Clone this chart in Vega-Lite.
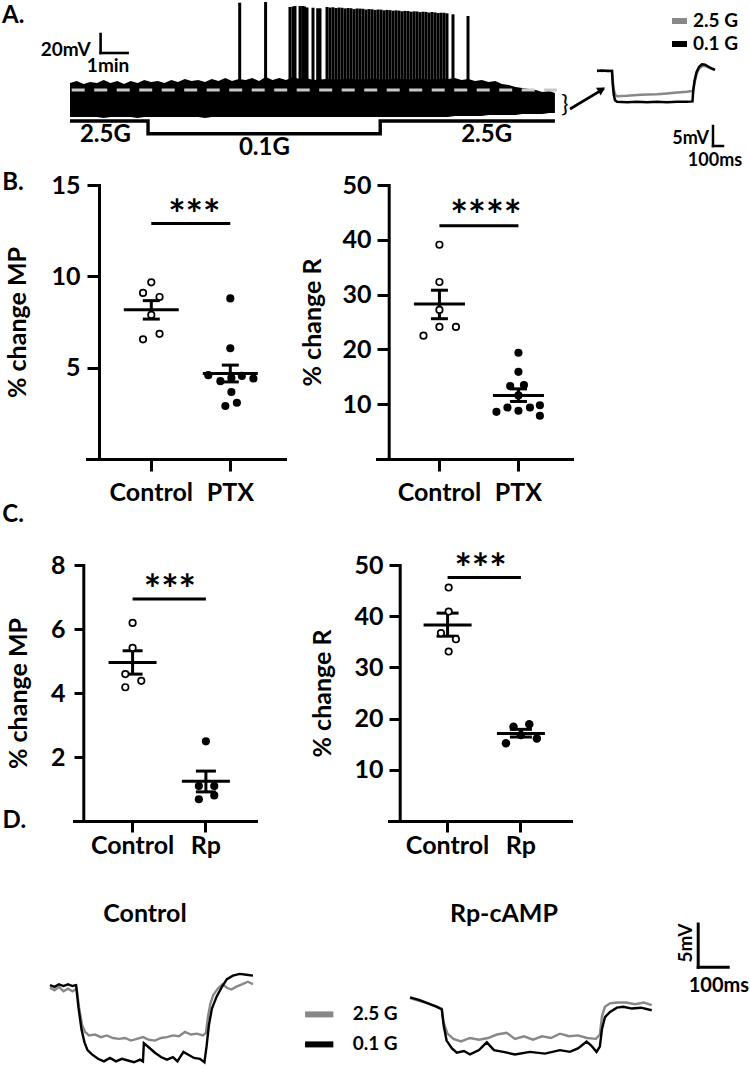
{
  "$schema": "https://vega.github.io/schema/vega-lite/v6.json",
  "background": "white",
  "padding": {"left": 2, "top": 0, "right": 0, "bottom": 0},
  "config": {
    "view": {"stroke": null},
    "font": "Lato",
    "axis": {"labelFont": "Lato", "titleFont": "Lato", "labelFontWeight": "bold", "titleFontWeight": "bold", "labelColor": "#000", "titleColor": "#000", "domainColor": "#000", "tickColor": "#000", "grid": false, "labelFontSize": 25, "titleFontSize": 25, "domainWidth": 3, "tickWidth": 3, "domainCap": "square"},
    "text": {"font": "Lato", "fontWeight": "bold", "color": "#000"},
    "tick": {"opacity": 1},
    "rule": {"opacity": 1},
    "title": {"font": "Lato", "fontWeight": "bold", "fontSize": 25, "color": "#000"},
    "legend": {"labelFont": "Lato", "labelFontWeight": "bold", "labelColor": "#000"}
  },
  "spacing": 0,
  "resolve": {"scale": {"color": "independent", "xOffset": "independent"}},
  "vconcat": [
    {
      "bounds": "flush", "spacing": 0,
      "resolve": {"scale": {"color": "independent", "xOffset": "independent"}},
      "hconcat": [
        {"width": 21, "height": 169.8, "data": {"values": []}, "mark": "point"},
        {
          "width": 486, "height": 140,
          "resolve": {"scale": {"y": "independent"}},
          "layer": [
            {
              "layer": [
                {
                  "data": {"values": [
                    {"t": 0, "top": -44.3, "bot": -80.1}, {"t": 0.25, "top": -42.2, "bot": -80.1}, {"t": 0.5, "top": -45.4, "bot": -80.1}, {"t": 0.75, "top": -43.3, "bot": -80.1},
                    {"t": 1.0, "top": -44.3, "bot": -80.1}, {"t": 1.25, "top": -41.2, "bot": -81.2}, {"t": 1.5, "top": -44.3, "bot": -80.1}, {"t": 1.75, "top": -42.2, "bot": -80.1},
                    {"t": 2.0, "top": -45.4, "bot": -80.1}, {"t": 2.25, "top": -42.2, "bot": -80.1}, {"t": 2.5, "top": -44.3, "bot": -81.2}, {"t": 2.75, "top": -41.2, "bot": -80.1},
                    {"t": 3.0, "top": -43.3, "bot": -80.1}, {"t": 3.25, "top": -42.2, "bot": -80.1}, {"t": 3.5, "top": -44.3, "bot": -80.1}, {"t": 3.75, "top": -41.2, "bot": -80.1},
                    {"t": 4.0, "top": -43.3, "bot": -80.1}, {"t": 4.25, "top": -40.1, "bot": -80.1}, {"t": 4.5, "top": -42.2, "bot": -80.1}, {"t": 4.75, "top": -41.2, "bot": -80.1},
                    {"t": 5.0, "top": -43.3, "bot": -81.2}, {"t": 5.25, "top": -40.1, "bot": -80.1}, {"t": 5.5, "top": -42.2, "bot": -80.1}, {"t": 5.75, "top": -39.1, "bot": -80.1},
                    {"t": 6.0, "top": -42.2, "bot": -80.1}, {"t": 6.25, "top": -40.1, "bot": -80.1}, {"t": 6.5, "top": -41.2, "bot": -80.1}, {"t": 6.75, "top": -39.1, "bot": -80.1},
                    {"t": 7.0, "top": -42.2, "bot": -80.1}, {"t": 7.25, "top": -38.0, "bot": -80.1}, {"t": 7.5, "top": -41.2, "bot": -80.1}, {"t": 7.75, "top": -39.1, "bot": -80.1},
                    {"t": 8.0, "top": -41.2, "bot": -80.1}, {"t": 8.25, "top": -38.0, "bot": -80.1}, {"t": 8.5, "top": -40.1, "bot": -80.1}, {"t": 8.75, "top": -39.1, "bot": -80.1},
                    {"t": 9.0, "top": -41.2, "bot": -80.1}, {"t": 9.5, "top": -40.1, "bot": -80.1}, {"t": 10.0, "top": -40.1, "bot": -80.1}, {"t": 10.5, "top": -40.1, "bot": -80.1},
                    {"t": 11.0, "top": -40.1, "bot": -80.1}, {"t": 11.5, "top": -40.1, "bot": -80.1}, {"t": 12.0, "top": -40.1, "bot": -80.1}, {"t": 12.5, "top": -40.1, "bot": -80.1},
                    {"t": 13.0, "top": -40.1, "bot": -80.1}, {"t": 13.5, "top": -40.1, "bot": -80.1}, {"t": 14.0, "top": -40.1, "bot": -80.1}, {"t": 14.25, "top": -39.1, "bot": -79.1},
                    {"t": 14.5, "top": -41.2, "bot": -79.1}, {"t": 14.75, "top": -40.1, "bot": -79.1}, {"t": 15.0, "top": -42.2, "bot": -79.1}, {"t": 15.25, "top": -41.2, "bot": -79.1},
                    {"t": 15.5, "top": -43.3, "bot": -78.0}, {"t": 15.75, "top": -42.2, "bot": -78.0}, {"t": 16.0, "top": -45.4, "bot": -78.0}, {"t": 16.25, "top": -46.4, "bot": -78.0},
                    {"t": 16.5, "top": -48.5, "bot": -78.0}, {"t": 16.75, "top": -49.6, "bot": -77.0}, {"t": 17.0, "top": -50.7, "bot": -77.0}, {"t": 17.25, "top": -51.7, "bot": -77.0},
                    {"t": 17.5, "top": -53.8, "bot": -77.0}, {"t": 17.75, "top": -52.8, "bot": -75.9}, {"t": 17.96, "top": -54.9, "bot": -75.9}
                  ]},
                  "mark": {"type": "area", "color": "#000", "interpolate": "linear"},
                  "encoding": {
                    "x": {"field": "t", "type": "quantitative", "scale": {"domain": [0, 18], "nice": false, "zero": false}, "axis": null},
                    "y": {"field": "top", "type": "quantitative", "scale": {"domain": [-105.4, 42], "nice": false, "zero": false}, "axis": null},
                    "y2": {"field": "bot"}
                  }
                },
                {
                  "data": {"values": [
                    {"t": 6.285, "peak": 40.2}, {"t": 7.244, "peak": 40.9}, {"t": 8.148, "peak": 35.7}, {"t": 8.259, "peak": 36.2}, {"t": 8.333, "peak": 36.7},
                    {"t": 8.519, "peak": 36.7}, {"t": 8.619, "peak": 36.7}, {"t": 8.685, "peak": 36.2}, {"t": 8.778, "peak": 35.2}, {"t": 9.0, "peak": 34.9},
                    {"t": 9.174, "peak": 34.3}, {"t": 9.259, "peak": 34.3},
                    {"t": 9.519, "peak": 35.7}, {"t": 9.63, "peak": 35.1}, {"t": 9.741, "peak": 35.4}, {"t": 9.852, "peak": 34.6}, {"t": 9.963, "peak": 35.1},
                    {"t": 10.074, "peak": 34.9}, {"t": 10.185, "peak": 34.2}, {"t": 10.296, "peak": 34.6}, {"t": 10.407, "peak": 34.4}, {"t": 10.519, "peak": 33.5},
                    {"t": 10.63, "peak": 34.1}, {"t": 10.741, "peak": 34.0}, {"t": 10.852, "peak": 33.8}, {"t": 10.963, "peak": 33.0}, {"t": 11.074, "peak": 33.5},
                    {"t": 11.185, "peak": 33.3}, {"t": 11.296, "peak": 32.6}, {"t": 11.407, "peak": 33.0}, {"t": 11.519, "peak": 32.9}, {"t": 11.63, "peak": 32.2},
                    {"t": 11.741, "peak": 32.6}, {"t": 11.852, "peak": 32.4}, {"t": 11.963, "peak": 31.8}, {"t": 12.074, "peak": 32.1}, {"t": 12.185, "peak": 31.9},
                    {"t": 12.296, "peak": 31.2}, {"t": 12.407, "peak": 31.6}, {"t": 12.519, "peak": 31.5}, {"t": 12.63, "peak": 30.7}, {"t": 12.741, "peak": 31.1},
                    {"t": 12.852, "peak": 31.0}, {"t": 12.963, "peak": 30.3}, {"t": 13.074, "peak": 30.7}, {"t": 13.185, "peak": 30.5}, {"t": 13.296, "peak": 29.8},
                    {"t": 13.407, "peak": 30.4}, {"t": 13.519, "peak": 30.0}, {"t": 13.63, "peak": 29.4}, {"t": 13.741, "peak": 29.7}, {"t": 13.852, "peak": 29.6},
                    {"t": 13.963, "peak": 29.0}, {"t": 14.185, "peak": 28.0}, {"t": 14.741, "peak": 26.2}
                  ]},
                  "mark": {"type": "rule", "color": "#000", "strokeWidth": 3.0},
                  "encoding": {
                    "x": {"field": "t", "type": "quantitative", "scale": {"domain": [0, 18], "nice": false, "zero": false}, "axis": null},
                    "y": {"field": "peak", "type": "quantitative", "scale": {"domain": [-105.4, 42], "nice": false, "zero": false}, "axis": null},
                    "y2": {"datum": -44}
                  }
                },
                {
                  "data": {"values": [{}]},
                  "mark": {"type": "rule", "color": "#c8c8c8", "strokeWidth": 3.2, "strokeDash": [13, 9.5]},
                  "encoding": {
                    "x": {"datum": 0.063, "type": "quantitative", "scale": {"domain": [0, 18], "nice": false, "zero": false}, "axis": null},
                    "x2": {"datum": 18.03},
                    "y": {"datum": -51.7, "type": "quantitative", "scale": {"domain": [-105.4, 42], "nice": false, "zero": false}, "axis": null}
                  }
                },
                {
                  "data": {"values": [{"x1": 1.133, "x2": 1.133, "v1": -12.75, "v2": 7.25}, {"x1": 1.133, "x2": 2.133, "v1": -12.75, "v2": -12.75}]},
                  "mark": {"type": "rule", "color": "#000", "strokeWidth": 2.6, "strokeCap": "square"},
                  "encoding": {
                    "x": {"field": "x1", "type": "quantitative", "scale": {"domain": [0, 18], "nice": false, "zero": false}, "axis": null},
                    "x2": {"field": "x2"},
                    "y": {"field": "v1", "type": "quantitative", "scale": {"domain": [-105.4, 42], "nice": false, "zero": false}, "axis": null},
                    "y2": {"field": "v2"}
                  }
                },
                {
                  "data": {"values": [{}]},
                  "mark": {"type": "text", "fontSize": 19, "align": "right", "baseline": "middle", "dx": -10, "dy": -3},
                  "encoding": {
                    "x": {"datum": 1.133, "type": "quantitative", "scale": {"domain": [0, 18], "nice": false, "zero": false}, "axis": null},
                    "y": {"datum": -12.75, "type": "quantitative", "scale": {"domain": [-105.4, 42], "nice": false, "zero": false}, "axis": null},
                    "text": {"value": "20mV"}
                  }
                },
                {
                  "data": {"values": [{}]},
                  "mark": {"type": "text", "fontSize": 19, "align": "center", "baseline": "middle", "dx": -6, "dy": 13},
                  "encoding": {
                    "x": {"datum": 1.633, "type": "quantitative", "scale": {"domain": [0, 18], "nice": false, "zero": false}, "axis": null},
                    "y": {"datum": -12.75, "type": "quantitative", "scale": {"domain": [-105.4, 42], "nice": false, "zero": false}, "axis": null},
                    "text": {"value": "1min"}
                  }
                },
                {
                  "data": {"values": [{}]},
                  "mark": {"type": "text", "fontSize": 24, "align": "left", "baseline": "middle", "dx": -68, "dy": 14.5},
                  "encoding": {
                    "x": {"datum": 0, "type": "quantitative", "scale": {"domain": [0, 18], "nice": false, "zero": false}, "axis": null},
                    "y": {"datum": 42, "type": "quantitative", "scale": {"domain": [-105.4, 42], "nice": false, "zero": false}, "axis": null},
                    "text": {"value": "A."}
                  }
                },
                {
                  "data": {"values": [{}]},
                  "mark": {"type": "text", "fontSize": 24, "fontWeight": "normal", "align": "center", "baseline": "middle"},
                  "encoding": {
                    "x": {"datum": 18.33, "type": "quantitative", "scale": {"domain": [0, 18], "nice": false, "zero": false}, "axis": null},
                    "y": {"datum": -67.5, "type": "quantitative", "scale": {"domain": [-105.4, 42], "nice": false, "zero": false}, "axis": null},
                    "text": {"value": "}"}
                  }
                }
              ]
            },
            {
              "layer": [
                {
                  "data": {"values": [{"t": 0, "g": 2.5}, {"t": 2.89, "g": 0.1}, {"t": 11.49, "g": 2.5}, {"t": 17.96, "g": 2.5}]},
                  "mark": {"type": "line", "interpolate": "step-after", "strokeWidth": 3.4, "color": "#000"},
                  "encoding": {
                    "x": {"field": "t", "type": "quantitative", "scale": {"domain": [0, 18], "nice": false, "zero": false}, "axis": null},
                    "y": {"field": "g", "type": "quantitative", "scale": {"domain": [-1.279, 25.176], "nice": false, "zero": false}, "axis": null}
                  }
                },
                {
                  "data": {"values": [{"t": 1.31, "g": 2.5, "label": "2.5G"}, {"t": 7.2, "g": 0.1, "label": "0.1G"}, {"t": 15.43, "g": 2.5, "label": "2.5G"}]},
                  "mark": {"type": "text", "fontSize": 24, "baseline": "middle", "align": "center", "dy": 14},
                  "encoding": {
                    "x": {"field": "t", "type": "quantitative", "scale": {"domain": [0, 18], "nice": false, "zero": false}, "axis": null},
                    "y": {"field": "g", "type": "quantitative", "scale": {"domain": [-1.279, 25.176], "nice": false, "zero": false}, "axis": null},
                    "text": {"field": "label"}
                  }
                }
              ]
            }
          ]
        },
        {"width": 34, "height": 1, "data": {"values": []}, "mark": "point"},
        {
          "width": 155, "height": 165,
          "layer": [
            {
              "data": {"values": [
                {"cond": "2.5 G", "t": 0, "mV": 0.1}, {"cond": "2.5 G", "t": 50, "mV": 0}, {"cond": "2.5 G", "t": 100, "mV": 0.1}, {"cond": "2.5 G", "t": 150, "mV": 0},
                {"cond": "2.5 G", "t": 160, "mV": -3.0}, {"cond": "2.5 G", "t": 170, "mV": -5.0}, {"cond": "2.5 G", "t": 185, "mV": -6.0}, {"cond": "2.5 G", "t": 200, "mV": -6.3},
                {"cond": "2.5 G", "t": 300, "mV": -6.2}, {"cond": "2.5 G", "t": 400, "mV": -6.0}, {"cond": "2.5 G", "t": 500, "mV": -5.9}, {"cond": "2.5 G", "t": 600, "mV": -5.8},
                {"cond": "2.5 G", "t": 700, "mV": -5.6}, {"cond": "2.5 G", "t": 800, "mV": -5.4}, {"cond": "2.5 G", "t": 900, "mV": -5.2}, {"cond": "2.5 G", "t": 960, "mV": -5.0},
                {"cond": "2.5 G", "t": 975, "mV": -3.0}, {"cond": "2.5 G", "t": 995, "mV": -0.8}, {"cond": "2.5 G", "t": 1020, "mV": 0.6}, {"cond": "2.5 G", "t": 1060, "mV": 1.3},
                {"cond": "2.5 G", "t": 1090, "mV": 1.2}, {"cond": "2.5 G", "t": 1130, "mV": 0.7}, {"cond": "2.5 G", "t": 1180, "mV": 0.3}
              ]},
              "mark": {"type": "line", "strokeWidth": 2.5},
              "encoding": {
                "x": {"field": "t", "type": "quantitative", "scale": {"domain": [-70, 1480], "nice": false, "zero": false}, "axis": null},
                "y": {"field": "mV", "type": "quantitative", "scale": {"domain": [-23.75, 17.5], "nice": false, "zero": false}, "axis": null},
                "color": {"field": "cond", "type": "nominal", "scale": {"domain": ["2.5 G", "0.1 G"], "range": ["#888888", "#000000"]},
                  "legend": {"orient": "none", "legendX": 79, "legendY": 9.5, "title": null, "symbolType": "stroke", "symbolSize": 225, "symbolStrokeWidth": 6, "labelFontSize": 19, "labelOffset": 3, "rowPadding": -4.5, "padding": 0}}
              }
            },
            {
              "data": {"values": [
                {"cond": "0.1 G", "t": 0, "mV": 0}, {"cond": "0.1 G", "t": 50, "mV": 0.1}, {"cond": "0.1 G", "t": 100, "mV": 0}, {"cond": "0.1 G", "t": 150, "mV": 0},
                {"cond": "0.1 G", "t": 158, "mV": -3.5}, {"cond": "0.1 G", "t": 168, "mV": -6.0}, {"cond": "0.1 G", "t": 180, "mV": -7.3}, {"cond": "0.1 G", "t": 200, "mV": -7.7},
                {"cond": "0.1 G", "t": 300, "mV": -7.8}, {"cond": "0.1 G", "t": 400, "mV": -7.7}, {"cond": "0.1 G", "t": 500, "mV": -7.8}, {"cond": "0.1 G", "t": 600, "mV": -7.7},
                {"cond": "0.1 G", "t": 700, "mV": -7.8}, {"cond": "0.1 G", "t": 800, "mV": -7.7}, {"cond": "0.1 G", "t": 900, "mV": -7.7}, {"cond": "0.1 G", "t": 955, "mV": -7.6},
                {"cond": "0.1 G", "t": 962, "mV": -5.0}, {"cond": "0.1 G", "t": 975, "mV": -2.5}, {"cond": "0.1 G", "t": 995, "mV": -0.3}, {"cond": "0.1 G", "t": 1020, "mV": 1.0},
                {"cond": "0.1 G", "t": 1050, "mV": 1.7}, {"cond": "0.1 G", "t": 1080, "mV": 1.6}, {"cond": "0.1 G", "t": 1120, "mV": 1.0}, {"cond": "0.1 G", "t": 1150, "mV": 0.6},
                {"cond": "0.1 G", "t": 1180, "mV": 0.3}
              ]},
              "mark": {"type": "line", "strokeWidth": 2.5},
              "encoding": {
                "x": {"field": "t", "type": "quantitative", "scale": {"domain": [-70, 1480], "nice": false, "zero": false}, "axis": null},
                "y": {"field": "mV", "type": "quantitative", "scale": {"domain": [-23.75, 17.5], "nice": false, "zero": false}, "axis": null},
                "color": {"field": "cond", "type": "nominal", "scale": {"domain": ["2.5 G", "0.1 G"], "range": ["#888888", "#000000"]},
                  "legend": {"orient": "none", "legendX": 79, "legendY": 9.5, "title": null, "symbolType": "stroke", "symbolSize": 225, "symbolStrokeWidth": 6, "labelFontSize": 19, "labelOffset": 3, "rowPadding": -4.5, "padding": 0}}
              }
            },
            {
              "data": {"values": [{"x1": 1160, "x2": 1160, "v1": -18.75, "v2": -13.75}, {"x1": 1160, "x2": 1260, "v1": -18.75, "v2": -18.75}]},
              "mark": {"type": "rule", "color": "#000", "strokeWidth": 2.5, "strokeCap": "square"},
              "encoding": {
                "x": {"field": "x1", "type": "quantitative", "scale": {"domain": [-70, 1480], "nice": false, "zero": false}, "axis": null},
                "x2": {"field": "x2"},
                "y": {"field": "v1", "type": "quantitative", "scale": {"domain": [-23.75, 17.5], "nice": false, "zero": false}, "axis": null},
                "y2": {"field": "v2"}
              }
            },
            {
              "data": {"values": [{"x": 1160, "v": -17.1, "label": "5mV"}]},
              "mark": {"type": "text", "fontSize": 18, "align": "right", "baseline": "middle", "dx": -4},
              "encoding": {
                "x": {"field": "x", "type": "quantitative", "scale": {"domain": [-70, 1480], "nice": false, "zero": false}, "axis": null},
                "y": {"field": "v", "type": "quantitative", "scale": {"domain": [-23.75, 17.5], "nice": false, "zero": false}, "axis": null},
                "text": {"field": "label"}
              }
            },
            {
              "data": {"values": [{"x": 1180, "v": -22.4, "label": "100ms"}]},
              "mark": {"type": "text", "fontSize": 18, "align": "center", "baseline": "middle"},
              "encoding": {
                "x": {"field": "x", "type": "quantitative", "scale": {"domain": [-70, 1480], "nice": false, "zero": false}, "axis": null},
                "y": {"field": "v", "type": "quantitative", "scale": {"domain": [-23.75, 17.5], "nice": false, "zero": false}, "axis": null},
                "text": {"field": "label"}
              }
            },
            {
              "data": {"values": [{"x1": -270, "x2": 70, "v1": -9.5, "v2": -4.4}]},
              "mark": {"type": "rule", "color": "#000", "strokeWidth": 2.7},
              "encoding": {
                "x": {"field": "x1", "type": "quantitative", "scale": {"domain": [-70, 1480], "nice": false, "zero": false}, "axis": null},
                "x2": {"field": "x2"},
                "y": {"field": "v1", "type": "quantitative", "scale": {"domain": [-23.75, 17.5], "nice": false, "zero": false}, "axis": null},
                "y2": {"field": "v2"}
              }
            },
            {
              "data": {"values": [{"x": 47, "v": -4.65}]},
              "mark": {"type": "point", "shape": "triangle-up", "filled": true, "color": "#000", "size": 80, "angle": 58.6, "opacity": 1},
              "encoding": {
                "x": {"field": "x", "type": "quantitative", "scale": {"domain": [-70, 1480], "nice": false, "zero": false}, "axis": null},
                "y": {"field": "v", "type": "quantitative", "scale": {"domain": [-23.75, 17.5], "nice": false, "zero": false}, "axis": null}
              }
            }
          ]
        }
      ]
    },
    {
      "bounds": "flush", "spacing": 0,
      "resolve": {"scale": {"color": "independent", "xOffset": "independent"}},
      "hconcat": [
        {"width": 38, "height": 363.4, "data": {"values": []}, "mark": "point"},
        {
          "width": 198, "height": 274,
          "layer": [
            {
              "data": {"values": [{"group": "Control", "mean": 8.17, "lo": 7.66, "hi": 8.67}, {"group": "PTX", "mean": 4.68, "lo": 4.22, "hi": 5.14}]},
              "mark": {"type": "tick", "size": 55, "thickness": 3, "color": "#000", "opacity": 1},
              "encoding": {
                "x": {"field": "group", "type": "nominal", "scale": {"domain": ["Control", "PTX"], "paddingInner": 0, "paddingOuter": 0.253, "align": 0.62}, "axis": {"title": null, "labelAngle": 0, "tickSize": 12, "labelPadding": 9}},
                "y": {"field": "mean", "type": "quantitative", "scale": {"domain": [0, 15], "nice": false, "zero": false}, "axis": {"values": [5, 10, 15], "offset": -12, "tickSize": 12, "labelPadding": 7, "title": "% change MP", "titlePadding": 20}}
              }
            },
            {
              "data": {"values": [{"group": "Control", "mean": 8.17, "lo": 7.66, "hi": 8.67}, {"group": "PTX", "mean": 4.68, "lo": 4.22, "hi": 5.14}]},
              "mark": {"type": "rule", "strokeWidth": 3, "color": "#000", "opacity": 1},
              "encoding": {"x": {"field": "group", "type": "nominal"}, "y": {"field": "lo", "type": "quantitative"}, "y2": {"field": "hi"}}
            },
            {
              "data": {"values": [{"group": "Control", "mean": 8.17, "lo": 7.66, "hi": 8.67}, {"group": "PTX", "mean": 4.68, "lo": 4.22, "hi": 5.14}]},
              "mark": {"type": "tick", "size": 17, "thickness": 3, "color": "#000", "opacity": 1},
              "encoding": {"x": {"field": "group", "type": "nominal"}, "y": {"field": "lo", "type": "quantitative"}}
            },
            {
              "data": {"values": [{"group": "Control", "mean": 8.17, "lo": 7.66, "hi": 8.67}, {"group": "PTX", "mean": 4.68, "lo": 4.22, "hi": 5.14}]},
              "mark": {"type": "tick", "size": 17, "thickness": 3, "color": "#000", "opacity": 1},
              "encoding": {"x": {"field": "group", "type": "nominal"}, "y": {"field": "hi", "type": "quantitative"}}
            },
            {
              "data": {"values": [
                {"group": "Control", "value": 9.67, "jitter": 0}, {"group": "Control", "value": 9.09, "jitter": -0.75}, {"group": "Control", "value": 8.87, "jitter": 0.75},
                {"group": "Control", "value": 7.89, "jitter": 0}, {"group": "Control", "value": 6.55, "jitter": -0.75}, {"group": "Control", "value": 6.85, "jitter": 0.75},
                {"group": "PTX", "value": 8.79, "jitter": 0}, {"group": "PTX", "value": 6.06, "jitter": 0}, {"group": "PTX", "value": 4.59, "jitter": -2.0},
                {"group": "PTX", "value": 4.26, "jitter": -0.9}, {"group": "PTX", "value": 4.44, "jitter": 0.1}, {"group": "PTX", "value": 4.55, "jitter": 1.05},
                {"group": "PTX", "value": 4.41, "jitter": 2.1}, {"group": "PTX", "value": 3.67, "jitter": 0.1}, {"group": "PTX", "value": 2.9, "jitter": -0.45},
                {"group": "PTX", "value": 3.08, "jitter": 0.6}
              ]},
              "mark": {"type": "point", "shape": "circle", "opacity": 1},
              "encoding": {
                "x": {"field": "group", "type": "nominal"},
                "xOffset": {"field": "jitter", "type": "quantitative", "scale": {"domain": [-3, 3], "range": [6.5, 72.5]}},
                "y": {"field": "value", "type": "quantitative"},
                "fill": {"condition": {"test": "datum.group === 'Control'", "value": "#ffffff"}, "value": "#000000"},
                "stroke": {"value": "#000000"},
                "strokeWidth": {"condition": {"test": "datum.group === 'Control'", "value": 1.7}, "value": 0},
                "size": {"condition": {"test": "datum.group === 'Control'", "value": 42}, "value": 66}
              }
            },
            {
              "data": {"values": [{"g1": "Control", "g2": "PTX", "y": 12.89, "stars": "***"}]},
              "mark": {"type": "rule", "strokeWidth": 3, "color": "#000", "opacity": 1},
              "encoding": {"x": {"field": "g1", "type": "nominal"}, "x2": {"field": "g2"}, "y": {"field": "y", "type": "quantitative"}}
            },
            {
              "data": {"values": [{"g1": "Control", "g2": "PTX", "y": 12.89, "stars": "***"}]},
              "mark": {"type": "text", "fontSize": 41, "align": "center", "baseline": "alphabetic", "dx": 43, "dy": 5},
              "encoding": {"x": {"field": "g1", "type": "nominal"}, "y": {"field": "y", "type": "quantitative"}, "text": {"field": "stars"}}
            },
            {
              "data": {"values": [{}]},
              "mark": {"type": "text", "fontSize": 24, "align": "left", "baseline": "middle", "dx": -149, "dy": -2},
              "encoding": {"x": {"datum": "Control", "type": "nominal"}, "y": {"datum": 15, "type": "quantitative"}, "text": {"value": "B."}}
            },
            {
              "data": {"values": [{}]},
              "mark": {"type": "text", "fontSize": 24, "align": "left", "baseline": "middle", "dx": -149, "dy": 56.2},
              "encoding": {"x": {"datum": "Control", "type": "nominal"}, "y": {"datum": 0, "type": "quantitative"}, "text": {"value": "C."}}
            }
          ]
        },
        {"width": 91.7, "height": 1, "data": {"values": []}, "mark": "point"},
        {
          "width": 195, "height": 274,
          "layer": [
            {
              "data": {"values": [{"group": "Control", "mean": 28.3, "lo": 25.6, "hi": 30.8}, {"group": "PTX", "mean": 11.6, "lo": 10.5, "hi": 12.8}]},
              "mark": {"type": "tick", "size": 51, "thickness": 3, "color": "#000", "opacity": 1},
              "encoding": {
                "x": {"field": "group", "type": "nominal", "scale": {"domain": ["Control", "PTX"], "paddingInner": 0, "paddingOuter": 0.234, "align": 0.62}, "axis": {"title": null, "labelAngle": 0, "tickSize": 12, "labelPadding": 9}},
                "y": {"field": "mean", "type": "quantitative", "scale": {"domain": [0, 50], "nice": false, "zero": false}, "axis": {"values": [10, 20, 30, 40, 50], "offset": -11.7, "tickSize": 11.7, "labelPadding": 6, "title": "% change R", "titlePadding": 16}}
              }
            },
            {
              "data": {"values": [{"group": "Control", "mean": 28.3, "lo": 25.6, "hi": 30.8}, {"group": "PTX", "mean": 11.6, "lo": 10.5, "hi": 12.8}]},
              "mark": {"type": "rule", "strokeWidth": 3, "color": "#000", "opacity": 1},
              "encoding": {"x": {"field": "group", "type": "nominal"}, "y": {"field": "lo", "type": "quantitative"}, "y2": {"field": "hi"}}
            },
            {
              "data": {"values": [{"group": "Control", "mean": 28.3, "lo": 25.6, "hi": 30.8}, {"group": "PTX", "mean": 11.6, "lo": 10.5, "hi": 12.8}]},
              "mark": {"type": "tick", "size": 17, "thickness": 3, "color": "#000", "opacity": 1},
              "encoding": {"x": {"field": "group", "type": "nominal"}, "y": {"field": "lo", "type": "quantitative"}}
            },
            {
              "data": {"values": [{"group": "Control", "mean": 28.3, "lo": 25.6, "hi": 30.8}, {"group": "PTX", "mean": 11.6, "lo": 10.5, "hi": 12.8}]},
              "mark": {"type": "tick", "size": 17, "thickness": 3, "color": "#000", "opacity": 1},
              "encoding": {"x": {"field": "group", "type": "nominal"}, "y": {"field": "hi", "type": "quantitative"}}
            },
            {
              "data": {"values": [
                {"group": "Control", "value": 39.1, "jitter": 0}, {"group": "Control", "value": 32.3, "jitter": 0}, {"group": "Control", "value": 27.2, "jitter": 0},
                {"group": "Control", "value": 22.5, "jitter": -1.45}, {"group": "Control", "value": 24.1, "jitter": 0}, {"group": "Control", "value": 24.1, "jitter": 1.5},
                {"group": "PTX", "value": 19.4, "jitter": 0}, {"group": "PTX", "value": 15.9, "jitter": 0}, {"group": "PTX", "value": 13.3, "jitter": -0.75},
                {"group": "PTX", "value": 13.5, "jitter": 0.5}, {"group": "PTX", "value": 11.6, "jitter": 0}, {"group": "PTX", "value": 8.6, "jitter": -2.0},
                {"group": "PTX", "value": 9.4, "jitter": -1.0}, {"group": "PTX", "value": 8.8, "jitter": 0}, {"group": "PTX", "value": 9.4, "jitter": 1.05},
                {"group": "PTX", "value": 9.8, "jitter": 1.95}, {"group": "PTX", "value": 7.9, "jitter": 1.95}
              ]},
              "mark": {"type": "point", "shape": "circle", "opacity": 1},
              "encoding": {
                "x": {"field": "group", "type": "nominal"},
                "xOffset": {"field": "jitter", "type": "quantitative", "scale": {"domain": [-3, 3], "range": [6.5, 72.5]}},
                "y": {"field": "value", "type": "quantitative"},
                "fill": {"condition": {"test": "datum.group === 'Control'", "value": "#ffffff"}, "value": "#000000"},
                "stroke": {"value": "#000000"},
                "strokeWidth": {"condition": {"test": "datum.group === 'Control'", "value": 1.7}, "value": 0},
                "size": {"condition": {"test": "datum.group === 'Control'", "value": 42}, "value": 66}
              }
            },
            {
              "data": {"values": [{"g1": "Control", "g2": "PTX", "y": 42.55, "stars": "****"}]},
              "mark": {"type": "rule", "strokeWidth": 3, "color": "#000", "opacity": 1},
              "encoding": {"x": {"field": "g1", "type": "nominal"}, "x2": {"field": "g2"}, "y": {"field": "y", "type": "quantitative"}}
            },
            {
              "data": {"values": [{"g1": "Control", "g2": "PTX", "y": 42.55, "stars": "****"}]},
              "mark": {"type": "text", "fontSize": 42, "align": "center", "baseline": "alphabetic", "dx": 46.5, "dy": 5},
              "encoding": {"x": {"field": "g1", "type": "nominal"}, "y": {"field": "y", "type": "quantitative"}, "text": {"field": "stars"}}
            }
          ]
        }
      ]
    },
    {
      "bounds": "flush", "spacing": 0,
      "resolve": {"scale": {"color": "independent", "xOffset": "independent"}},
      "hconcat": [
        {"width": 25, "height": 333.8, "data": {"values": []}, "mark": "point"},
        {
          "width": 182, "height": 256,
          "layer": [
            {
              "data": {"values": [{"group": "Control", "mean": 4.95, "lo": 4.59, "hi": 5.32}, {"group": "Rp", "mean": 1.24, "lo": 0.91, "hi": 1.56}]},
              "mark": {"type": "tick", "size": 48, "thickness": 3, "color": "#000", "opacity": 1},
              "encoding": {
                "x": {"field": "group", "type": "nominal", "scale": {"domain": ["Control", "Rp"], "paddingInner": 0, "paddingOuter": 0.2415, "align": 0.62}, "axis": {"title": null, "labelAngle": 0, "tickSize": 11, "labelPadding": 1}},
                "y": {"field": "mean", "type": "quantitative", "scale": {"domain": [0, 8], "nice": false, "zero": false}, "axis": {"values": [2, 4, 6, 8], "offset": -9.3, "tickSize": 9.3, "labelPadding": 9, "title": "% change MP", "titlePadding": 19}}
              }
            },
            {
              "data": {"values": [{"group": "Control", "mean": 4.95, "lo": 4.59, "hi": 5.32}, {"group": "Rp", "mean": 1.24, "lo": 0.91, "hi": 1.56}]},
              "mark": {"type": "rule", "strokeWidth": 3, "color": "#000", "opacity": 1},
              "encoding": {"x": {"field": "group", "type": "nominal"}, "y": {"field": "lo", "type": "quantitative"}, "y2": {"field": "hi"}}
            },
            {
              "data": {"values": [{"group": "Control", "mean": 4.95, "lo": 4.59, "hi": 5.32}, {"group": "Rp", "mean": 1.24, "lo": 0.91, "hi": 1.56}]},
              "mark": {"type": "tick", "size": 20, "thickness": 3, "color": "#000", "opacity": 1},
              "encoding": {"x": {"field": "group", "type": "nominal"}, "y": {"field": "lo", "type": "quantitative"}}
            },
            {
              "data": {"values": [{"group": "Control", "mean": 4.95, "lo": 4.59, "hi": 5.32}, {"group": "Rp", "mean": 1.24, "lo": 0.91, "hi": 1.56}]},
              "mark": {"type": "tick", "size": 20, "thickness": 3, "color": "#000", "opacity": 1},
              "encoding": {"x": {"field": "group", "type": "nominal"}, "y": {"field": "hi", "type": "quantitative"}}
            },
            {
              "data": {"values": [
                {"group": "Control", "value": 6.19, "jitter": 0}, {"group": "Control", "value": 5.41, "jitter": 0}, {"group": "Control", "value": 4.59, "jitter": -0.66},
                {"group": "Control", "value": 4.38, "jitter": 0.79}, {"group": "Control", "value": 4.18, "jitter": -0.66},
                {"group": "Rp", "value": 2.49, "jitter": 0}, {"group": "Rp", "value": 1.09, "jitter": -0.64}, {"group": "Rp", "value": 1.09, "jitter": 0.76},
                {"group": "Rp", "value": 0.68, "jitter": -0.64}, {"group": "Rp", "value": 0.8, "jitter": 0.76}
              ]},
              "mark": {"type": "point", "shape": "circle", "opacity": 1},
              "encoding": {
                "x": {"field": "group", "type": "nominal"},
                "xOffset": {"field": "jitter", "type": "quantitative", "scale": {"domain": [-3, 3], "range": [3.65, 69.65]}},
                "y": {"field": "value", "type": "quantitative"},
                "fill": {"condition": {"test": "datum.group === 'Control'", "value": "#ffffff"}, "value": "#000000"},
                "stroke": {"value": "#000000"},
                "strokeWidth": {"condition": {"test": "datum.group === 'Control'", "value": 1.7}, "value": 0},
                "size": {"condition": {"test": "datum.group === 'Control'", "value": 42}, "value": 66}
              }
            },
            {
              "data": {"values": [{"g1": "Control", "g2": "Rp", "y": 6.94, "stars": "***"}]},
              "mark": {"type": "rule", "strokeWidth": 3, "color": "#000", "opacity": 1},
              "encoding": {"x": {"field": "g1", "type": "nominal"}, "x2": {"field": "g2"}, "y": {"field": "y", "type": "quantitative"}}
            },
            {
              "data": {"values": [{"g1": "Control", "g2": "Rp", "y": 6.94, "stars": "***"}]},
              "mark": {"type": "text", "fontSize": 41, "align": "center", "baseline": "alphabetic", "dx": 37.3, "dy": 5},
              "encoding": {"x": {"field": "g1", "type": "nominal"}, "y": {"field": "y", "type": "quantitative"}, "text": {"field": "stars"}}
            },
            {
              "data": {"values": [{}]},
              "mark": {"type": "text", "fontSize": 24, "align": "left", "baseline": "middle", "dx": -130, "dy": 0},
              "encoding": {"x": {"datum": "Control", "type": "nominal"}, "y": {"datum": 0, "type": "quantitative"}, "text": {"value": "D."}}
            }
          ]
        },
        {"width": 132.3, "height": 1, "data": {"values": []}, "mark": "point"},
        {
          "width": 182, "height": 256,
          "layer": [
            {
              "data": {"values": [{"group": "Control", "mean": 38.3, "lo": 36.1, "hi": 40.6}, {"group": "Rp", "mean": 17.1, "lo": 16.4, "hi": 17.9}]},
              "mark": {"type": "tick", "size": 48, "thickness": 3, "color": "#000", "opacity": 1},
              "encoding": {
                "x": {"field": "group", "type": "nominal", "scale": {"domain": ["Control", "Rp"], "paddingInner": 0, "paddingOuter": 0.241, "align": 0.62}, "axis": {"title": null, "labelAngle": 0, "tickSize": 11, "labelPadding": 1}},
                "y": {"field": "mean", "type": "quantitative", "scale": {"domain": [0, 50], "nice": false, "zero": false}, "axis": {"values": [10, 20, 30, 40, 50], "offset": -10.7, "tickSize": 10.7, "labelPadding": 6, "title": "% change R", "titlePadding": 18}}
              }
            },
            {
              "data": {"values": [{"group": "Control", "mean": 38.3, "lo": 36.1, "hi": 40.6}, {"group": "Rp", "mean": 17.1, "lo": 16.4, "hi": 17.9}]},
              "mark": {"type": "rule", "strokeWidth": 3, "color": "#000", "opacity": 1},
              "encoding": {"x": {"field": "group", "type": "nominal"}, "y": {"field": "lo", "type": "quantitative"}, "y2": {"field": "hi"}}
            },
            {
              "data": {"values": [{"group": "Control", "mean": 38.3, "lo": 36.1, "hi": 40.6}, {"group": "Rp", "mean": 17.1, "lo": 16.4, "hi": 17.9}]},
              "mark": {"type": "tick", "size": 22, "thickness": 3, "color": "#000", "opacity": 1},
              "encoding": {"x": {"field": "group", "type": "nominal"}, "y": {"field": "lo", "type": "quantitative"}}
            },
            {
              "data": {"values": [{"group": "Control", "mean": 38.3, "lo": 36.1, "hi": 40.6}, {"group": "Rp", "mean": 17.1, "lo": 16.4, "hi": 17.9}]},
              "mark": {"type": "tick", "size": 22, "thickness": 3, "color": "#000", "opacity": 1},
              "encoding": {"x": {"field": "group", "type": "nominal"}, "y": {"field": "hi", "type": "quantitative"}}
            },
            {
              "data": {"values": [
                {"group": "Control", "value": 45.6, "jitter": 0.1}, {"group": "Control", "value": 40.9, "jitter": 0.1}, {"group": "Control", "value": 36.7, "jitter": -0.6},
                {"group": "Control", "value": 35.5, "jitter": 0.76}, {"group": "Control", "value": 33.1, "jitter": 0.1},
                {"group": "Rp", "value": 18.4, "jitter": -0.67}, {"group": "Rp", "value": 18.9, "jitter": 0.76}, {"group": "Rp", "value": 16.8, "jitter": 0},
                {"group": "Rp", "value": 15.2, "jitter": -1.36}, {"group": "Rp", "value": 16.1, "jitter": 1.45}
              ]},
              "mark": {"type": "point", "shape": "circle", "opacity": 1},
              "encoding": {
                "x": {"field": "group", "type": "nominal"},
                "xOffset": {"field": "jitter", "type": "quantitative", "scale": {"domain": [-3, 3], "range": [3.65, 69.65]}},
                "y": {"field": "value", "type": "quantitative"},
                "fill": {"condition": {"test": "datum.group === 'Control'", "value": "#ffffff"}, "value": "#000000"},
                "stroke": {"value": "#000000"},
                "strokeWidth": {"condition": {"test": "datum.group === 'Control'", "value": 1.7}, "value": 0},
                "size": {"condition": {"test": "datum.group === 'Control'", "value": 42}, "value": 72}
              }
            },
            {
              "data": {"values": [{"g1": "Control", "g2": "Rp", "y": 47.54, "stars": "***"}]},
              "mark": {"type": "rule", "strokeWidth": 3, "color": "#000", "opacity": 1},
              "encoding": {"x": {"field": "g1", "type": "nominal"}, "x2": {"field": "g2"}, "y": {"field": "y", "type": "quantitative"}}
            },
            {
              "data": {"values": [{"g1": "Control", "g2": "Rp", "y": 47.54, "stars": "***"}]},
              "mark": {"type": "text", "fontSize": 41, "align": "center", "baseline": "alphabetic", "dx": 33, "dy": 5},
              "encoding": {"x": {"field": "g1", "type": "nominal"}, "y": {"field": "y", "type": "quantitative"}, "text": {"field": "stars"}}
            }
          ]
        }
      ]
    },
    {
      "bounds": "flush", "spacing": 0,
      "resolve": {"scale": {"color": "independent", "xOffset": "independent"}},
      "hconcat": [
        {"width": 1, "height": 1, "data": {"values": []}, "mark": "point"},
        {
          "width": 203, "height": 170,
          "layer": [
            {
              "data": {"values": [
                {"cond": "2.5 G", "t": 0, "mV": -0.2}, {"cond": "2.5 G", "t": 15, "mV": -0.5}, {"cond": "2.5 G", "t": 30, "mV": -0.1}, {"cond": "2.5 G", "t": 45, "mV": -0.6},
                {"cond": "2.5 G", "t": 60, "mV": -0.3}, {"cond": "2.5 G", "t": 75, "mV": -0.6}, {"cond": "2.5 G", "t": 89, "mV": -0.3}, {"cond": "2.5 G", "t": 97, "mV": -2.5},
                {"cond": "2.5 G", "t": 107, "mV": -4.5}, {"cond": "2.5 G", "t": 117, "mV": -5.3}, {"cond": "2.5 G", "t": 130, "mV": -5.7}, {"cond": "2.5 G", "t": 150, "mV": -5.6},
                {"cond": "2.5 G", "t": 170, "mV": -5.9}, {"cond": "2.5 G", "t": 190, "mV": -5.7}, {"cond": "2.5 G", "t": 210, "mV": -6.0}, {"cond": "2.5 G", "t": 230, "mV": -6.1},
                {"cond": "2.5 G", "t": 250, "mV": -6.0}, {"cond": "2.5 G", "t": 270, "mV": -6.3}, {"cond": "2.5 G", "t": 290, "mV": -6.1}, {"cond": "2.5 G", "t": 310, "mV": -5.9},
                {"cond": "2.5 G", "t": 330, "mV": -6.2}, {"cond": "2.5 G", "t": 350, "mV": -6.3}, {"cond": "2.5 G", "t": 370, "mV": -6.0}, {"cond": "2.5 G", "t": 390, "mV": -5.9},
                {"cond": "2.5 G", "t": 410, "mV": -5.7}, {"cond": "2.5 G", "t": 430, "mV": -5.8}, {"cond": "2.5 G", "t": 450, "mV": -5.3}, {"cond": "2.5 G", "t": 470, "mV": -5.6},
                {"cond": "2.5 G", "t": 490, "mV": -5.5}, {"cond": "2.5 G", "t": 510, "mV": -5.7}, {"cond": "2.5 G", "t": 520, "mV": -5.4}, {"cond": "2.5 G", "t": 527, "mV": -3.5},
                {"cond": "2.5 G", "t": 535, "mV": -2.0}, {"cond": "2.5 G", "t": 545, "mV": -1.0}, {"cond": "2.5 G", "t": 560, "mV": -0.3}, {"cond": "2.5 G", "t": 575, "mV": 0.2},
                {"cond": "2.5 G", "t": 590, "mV": -0.2}, {"cond": "2.5 G", "t": 605, "mV": -0.4}, {"cond": "2.5 G", "t": 620, "mV": -0.1}, {"cond": "2.5 G", "t": 640, "mV": 0.2},
                {"cond": "2.5 G", "t": 660, "mV": 0.5}, {"cond": "2.5 G", "t": 677, "mV": 0.2}
              ]},
              "mark": {"type": "line", "strokeWidth": 2.4},
              "encoding": {
                "x": {"field": "t", "type": "quantitative", "scale": {"domain": [0, 677], "nice": false, "zero": false}, "axis": null},
                "y": {"field": "mV", "type": "quantitative", "scale": {"domain": [-9.58, 10.05], "nice": false, "zero": false}, "axis": null},
                "color": {"field": "cond", "type": "nominal", "scale": {"domain": ["2.5 G", "0.1 G"], "range": ["#888888", "#000000"]},
                  "legend": {"orient": "none", "legendX": 251.7, "legendY": 97.9, "title": null, "symbolType": "stroke", "symbolSize": 800, "symbolStrokeWidth": 6, "labelFontSize": 19, "labelOffset": 16, "rowPadding": -0.3, "padding": 0}}
              }
            },
            {
              "data": {"values": [
                {"cond": "0.1 G", "t": 0, "mV": 0.1}, {"cond": "0.1 G", "t": 15, "mV": -0.1}, {"cond": "0.1 G", "t": 30, "mV": 0.2}, {"cond": "0.1 G", "t": 45, "mV": 0.0},
                {"cond": "0.1 G", "t": 60, "mV": 0.2}, {"cond": "0.1 G", "t": 75, "mV": 0.0}, {"cond": "0.1 G", "t": 87, "mV": 0.1}, {"cond": "0.1 G", "t": 95, "mV": -2.5},
                {"cond": "0.1 G", "t": 105, "mV": -5.0}, {"cond": "0.1 G", "t": 115, "mV": -6.5}, {"cond": "0.1 G", "t": 125, "mV": -7.4}, {"cond": "0.1 G", "t": 140, "mV": -7.9},
                {"cond": "0.1 G", "t": 160, "mV": -8.4}, {"cond": "0.1 G", "t": 180, "mV": -8.7}, {"cond": "0.1 G", "t": 200, "mV": -8.3}, {"cond": "0.1 G", "t": 220, "mV": -8.7},
                {"cond": "0.1 G", "t": 240, "mV": -8.4}, {"cond": "0.1 G", "t": 260, "mV": -8.6}, {"cond": "0.1 G", "t": 280, "mV": -8.8}, {"cond": "0.1 G", "t": 300, "mV": -8.5},
                {"cond": "0.1 G", "t": 310, "mV": -8.7}, {"cond": "0.1 G", "t": 313, "mV": -6.6}, {"cond": "0.1 G", "t": 330, "mV": -7.1}, {"cond": "0.1 G", "t": 350, "mV": -7.7},
                {"cond": "0.1 G", "t": 370, "mV": -8.2}, {"cond": "0.1 G", "t": 390, "mV": -8.5}, {"cond": "0.1 G", "t": 410, "mV": -8.2}, {"cond": "0.1 G", "t": 425, "mV": -8.7},
                {"cond": "0.1 G", "t": 445, "mV": -7.6}, {"cond": "0.1 G", "t": 460, "mV": -7.9}, {"cond": "0.1 G", "t": 480, "mV": -8.3}, {"cond": "0.1 G", "t": 500, "mV": -8.4},
                {"cond": "0.1 G", "t": 515, "mV": -8.8}, {"cond": "0.1 G", "t": 522, "mV": -7.0}, {"cond": "0.1 G", "t": 530, "mV": -4.5}, {"cond": "0.1 G", "t": 540, "mV": -2.6},
                {"cond": "0.1 G", "t": 556, "mV": -1.2}, {"cond": "0.1 G", "t": 575, "mV": 0.0}, {"cond": "0.1 G", "t": 590, "mV": 0.8}, {"cond": "0.1 G", "t": 610, "mV": 1.2},
                {"cond": "0.1 G", "t": 633, "mV": 1.4}, {"cond": "0.1 G", "t": 655, "mV": 1.3}, {"cond": "0.1 G", "t": 677, "mV": 1.2}
              ]},
              "mark": {"type": "line", "strokeWidth": 2.4},
              "encoding": {
                "x": {"field": "t", "type": "quantitative", "scale": {"domain": [0, 677], "nice": false, "zero": false}, "axis": null},
                "y": {"field": "mV", "type": "quantitative", "scale": {"domain": [-9.58, 10.05], "nice": false, "zero": false}, "axis": null},
                "color": {"field": "cond", "type": "nominal", "scale": {"domain": ["2.5 G", "0.1 G"], "range": ["#888888", "#000000"]},
                  "legend": {"orient": "none", "legendX": 251.7, "legendY": 97.9, "title": null, "symbolType": "stroke", "symbolSize": 800, "symbolStrokeWidth": 6, "labelFontSize": 19, "labelOffset": 16, "rowPadding": -0.3, "padding": 0}}
              }
            },
            {
              "data": {"values": [{"x": 316.7, "v": 8.31, "label": "Control"}]},
              "mark": {"type": "text", "fontSize": 25, "align": "center", "baseline": "middle"},
              "encoding": {
                "x": {"field": "x", "type": "quantitative", "scale": {"domain": [0, 677], "nice": false, "zero": false}, "axis": null},
                "y": {"field": "v", "type": "quantitative", "scale": {"domain": [-9.58, 10.05], "nice": false, "zero": false}, "axis": null},
                "text": {"field": "label"}
              }
            }
          ]
        },
        {"width": 157, "height": 1, "data": {"values": []}, "mark": "point"},
        {
          "width": 320, "height": 170,
          "layer": [
            {
              "data": {"values": [
                {"cond": "2.5 G", "t": 0, "mV": -1.4}, {"cond": "2.5 G", "t": 30, "mV": -1.7}, {"cond": "2.5 G", "t": 60, "mV": -2.0}, {"cond": "2.5 G", "t": 90, "mV": -2.4},
                {"cond": "2.5 G", "t": 106, "mV": -2.6}, {"cond": "2.5 G", "t": 112, "mV": -4.2}, {"cond": "2.5 G", "t": 125, "mV": -5.5}, {"cond": "2.5 G", "t": 145, "mV": -6.1},
                {"cond": "2.5 G", "t": 170, "mV": -6.4}, {"cond": "2.5 G", "t": 200, "mV": -6.0}, {"cond": "2.5 G", "t": 230, "mV": -6.2}, {"cond": "2.5 G", "t": 260, "mV": -6.0},
                {"cond": "2.5 G", "t": 290, "mV": -5.6}, {"cond": "2.5 G", "t": 322, "mV": -5.4}, {"cond": "2.5 G", "t": 350, "mV": -6.1}, {"cond": "2.5 G", "t": 380, "mV": -5.8},
                {"cond": "2.5 G", "t": 410, "mV": -6.2}, {"cond": "2.5 G", "t": 440, "mV": -5.8}, {"cond": "2.5 G", "t": 470, "mV": -6.0}, {"cond": "2.5 G", "t": 500, "mV": -5.5},
                {"cond": "2.5 G", "t": 530, "mV": -5.8}, {"cond": "2.5 G", "t": 560, "mV": -5.7}, {"cond": "2.5 G", "t": 590, "mV": -6.0}, {"cond": "2.5 G", "t": 620, "mV": -6.1},
                {"cond": "2.5 G", "t": 633, "mV": -5.6}, {"cond": "2.5 G", "t": 640, "mV": -3.5}, {"cond": "2.5 G", "t": 650, "mV": -2.4}, {"cond": "2.5 G", "t": 667, "mV": -2.0},
                {"cond": "2.5 G", "t": 690, "mV": -1.9}, {"cond": "2.5 G", "t": 720, "mV": -1.9}, {"cond": "2.5 G", "t": 750, "mV": -2.1}, {"cond": "2.5 G", "t": 780, "mV": -1.9},
                {"cond": "2.5 G", "t": 806, "mV": -2.2}
              ]},
              "mark": {"type": "line", "strokeWidth": 2.4},
              "encoding": {
                "x": {"field": "t", "type": "quantitative", "scale": {"domain": [0, 1067], "nice": false, "zero": false}, "axis": null},
                "y": {"field": "mV", "type": "quantitative", "scale": {"domain": [-9.58, 10.05], "nice": false, "zero": false}, "axis": null},
                "color": {"field": "cond", "type": "nominal", "scale": {"domain": ["2.5 G", "0.1 G"], "range": ["#888888", "#000000"]}, "legend": null}
              }
            },
            {
              "data": {"values": [
                {"cond": "0.1 G", "t": 0, "mV": -1.3}, {"cond": "0.1 G", "t": 30, "mV": -1.6}, {"cond": "0.1 G", "t": 60, "mV": -2.0}, {"cond": "0.1 G", "t": 90, "mV": -2.4},
                {"cond": "0.1 G", "t": 106, "mV": -2.7}, {"cond": "0.1 G", "t": 112, "mV": -4.5}, {"cond": "0.1 G", "t": 122, "mV": -6.3}, {"cond": "0.1 G", "t": 140, "mV": -7.2},
                {"cond": "0.1 G", "t": 156, "mV": -7.7}, {"cond": "0.1 G", "t": 180, "mV": -7.5}, {"cond": "0.1 G", "t": 200, "mV": -7.9}, {"cond": "0.1 G", "t": 230, "mV": -7.4},
                {"cond": "0.1 G", "t": 256, "mV": -6.5}, {"cond": "0.1 G", "t": 280, "mV": -7.4}, {"cond": "0.1 G", "t": 311, "mV": -7.6}, {"cond": "0.1 G", "t": 350, "mV": -7.9},
                {"cond": "0.1 G", "t": 400, "mV": -7.6}, {"cond": "0.1 G", "t": 450, "mV": -7.8}, {"cond": "0.1 G", "t": 500, "mV": -7.4}, {"cond": "0.1 G", "t": 533, "mV": -7.6},
                {"cond": "0.1 G", "t": 560, "mV": -7.2}, {"cond": "0.1 G", "t": 589, "mV": -6.4}, {"cond": "0.1 G", "t": 605, "mV": -6.9}, {"cond": "0.1 G", "t": 622, "mV": -7.6},
                {"cond": "0.1 G", "t": 633, "mV": -7.0}, {"cond": "0.1 G", "t": 640, "mV": -5.0}, {"cond": "0.1 G", "t": 650, "mV": -3.6}, {"cond": "0.1 G", "t": 667, "mV": -3.0},
                {"cond": "0.1 G", "t": 690, "mV": -2.5}, {"cond": "0.1 G", "t": 711, "mV": -2.4}, {"cond": "0.1 G", "t": 740, "mV": -2.6}, {"cond": "0.1 G", "t": 770, "mV": -2.5},
                {"cond": "0.1 G", "t": 806, "mV": -2.8}
              ]},
              "mark": {"type": "line", "strokeWidth": 2.4},
              "encoding": {
                "x": {"field": "t", "type": "quantitative", "scale": {"domain": [0, 1067], "nice": false, "zero": false}, "axis": null},
                "y": {"field": "mV", "type": "quantitative", "scale": {"domain": [-9.58, 10.05], "nice": false, "zero": false}, "axis": null},
                "color": {"field": "cond", "type": "nominal", "scale": {"domain": ["2.5 G", "0.1 G"], "range": ["#888888", "#000000"]}, "legend": null}
              }
            },
            {
              "data": {"values": [{"x1": 961, "x2": 961, "v1": 2.16, "v2": 7.16}, {"x1": 961, "x2": 1061, "v1": 2.16, "v2": 2.16}]},
              "mark": {"type": "rule", "color": "#000", "strokeWidth": 3, "strokeCap": "square"},
              "encoding": {
                "x": {"field": "x1", "type": "quantitative", "scale": {"domain": [0, 1067], "nice": false, "zero": false}, "axis": null},
                "x2": {"field": "x2"},
                "y": {"field": "v1", "type": "quantitative", "scale": {"domain": [-9.58, 10.05], "nice": false, "zero": false}, "axis": null},
                "y2": {"field": "v2"}
              }
            },
            {
              "data": {"values": [{"x": 921.7, "v": 4.97, "label": "5mV"}]},
              "mark": {"type": "text", "fontSize": 19, "align": "center", "baseline": "middle", "angle": 270},
              "encoding": {
                "x": {"field": "x", "type": "quantitative", "scale": {"domain": [0, 1067], "nice": false, "zero": false}, "axis": null},
                "y": {"field": "v", "type": "quantitative", "scale": {"domain": [-9.58, 10.05], "nice": false, "zero": false}, "axis": null},
                "text": {"field": "label"}
              }
            },
            {
              "data": {"values": [{"x": 1030, "v": 0.06, "label": "100ms"}]},
              "mark": {"type": "text", "fontSize": 20, "align": "center", "baseline": "middle"},
              "encoding": {
                "x": {"field": "x", "type": "quantitative", "scale": {"domain": [0, 1067], "nice": false, "zero": false}, "axis": null},
                "y": {"field": "v", "type": "quantitative", "scale": {"domain": [-9.58, 10.05], "nice": false, "zero": false}, "axis": null},
                "text": {"field": "label"}
              }
            },
            {
              "data": {"values": [{"x": 313.3, "v": 8.31, "label": "Rp-cAMP"}]},
              "mark": {"type": "text", "fontSize": 25, "align": "center", "baseline": "middle"},
              "encoding": {
                "x": {"field": "x", "type": "quantitative", "scale": {"domain": [0, 1067], "nice": false, "zero": false}, "axis": null},
                "y": {"field": "v", "type": "quantitative", "scale": {"domain": [-9.58, 10.05], "nice": false, "zero": false}, "axis": null},
                "text": {"field": "label"}
              }
            }
          ]
        }
      ]
    }
  ]
}
